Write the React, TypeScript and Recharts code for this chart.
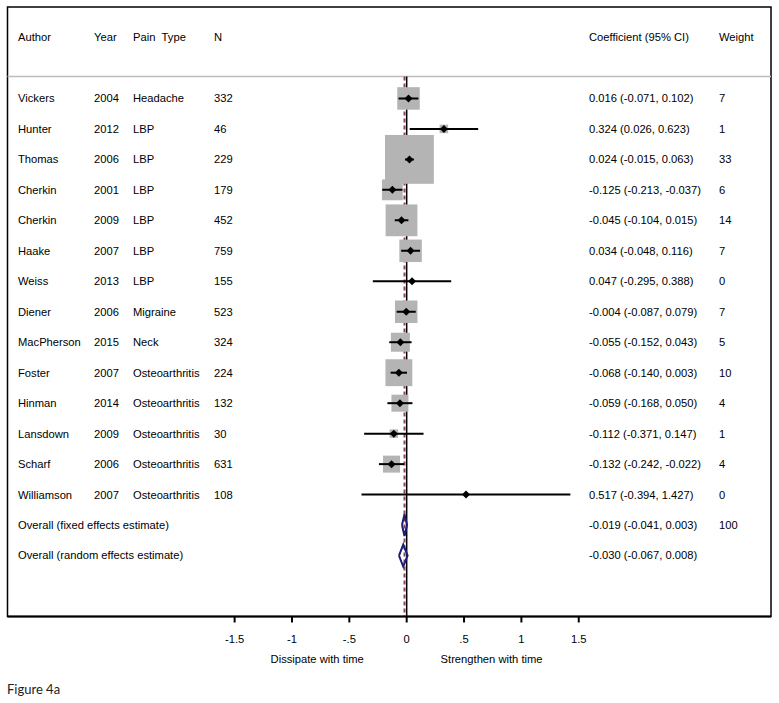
import React from 'react';
import {
    ComposedChart,
    Scatter,
    XAxis,
    YAxis,
    ReferenceLine,
    ReferenceArea
} from 'recharts';

// study rows, top to bottom
const authors = ['Vickers', 'Hunter', 'Thomas', 'Cherkin', 'Cherkin', 'Haake', 'Weiss', 'Diener', 'MacPherson', 'Foster', 'Hinman', 'Lansdown', 'Scharf', 'Williamson'];
const years = [2004, 2012, 2006, 2001, 2009, 2007, 2013, 2006, 2015, 2007, 2014, 2009, 2006, 2007];
const painTypes = ['Headache', 'LBP', 'LBP', 'LBP', 'LBP', 'LBP', 'LBP', 'Migraine', 'Neck', 'Osteoarthritis', 'Osteoarthritis', 'Osteoarthritis', 'Osteoarthritis', 'Osteoarthritis'];
const sampleSizes = [332, 46, 229, 179, 452, 759, 155, 523, 324, 224, 132, 30, 631, 108];
const coefs = [0.016, 0.324, 0.024, -0.125, -0.045, 0.034, 0.047, -0.004, -0.055, -0.068, -0.059, -0.112, -0.132, 0.517];
const lower = [-0.071, 0.026, -0.015, -0.213, -0.104, -0.048, -0.295, -0.087, -0.152, -0.140, -0.168, -0.371, -0.242, -0.394];
const upper = [0.102, 0.623, 0.063, -0.037, 0.015, 0.116, 0.388, 0.079, 0.043, 0.003, 0.050, 0.147, -0.022, 1.427];
const weights = [7, 1, 33, 6, 14, 7, 0, 7, 5, 10, 4, 1, 4, 0];

const overallLabels = ['Overall (fixed effects estimate)', 'Overall (random effects estimate)'];
const overallCoefs = [-0.019, -0.030];
const overallLower = [-0.041, -0.067];
const overallUpper = [0.003, 0.008];
const overallWeights = ['100', ''];

const headers = ['Author', 'Year', 'Pain\u00A0\u00A0Type', 'N', 'Coefficient (95% CI)', 'Weight'];

const xTicks = [-1.5, -1, -0.5, 0, 0.5, 1, 1.5];
const xTickLabels = ['-1.5', '-1', '-.5', '0', '.5', '1', '1.5'];
const noteTicks = [-0.78, 0.74];
const noteLabels = ['Dissipate with time', 'Strengthen with time'];

const X_DOMAIN = [-3.48, 3.176];
const Y_DOMAIN = [-3, 17];
const HEADER_ROW = -2;
const SEPARATOR_ROW = -0.72;
const COLUMN_X = [18, 94, 133, 214, 589, 719];
const SQUARE_SCALE = 8.5;
const DIAMOND_HALF = 0.36;
const FONT = '"Liberation Sans", Arial, sans-serif';

const fmt = (v: number) => v.toFixed(3);

const studies = authors.map((a, i) => ({
    x: coefs[i],
    row: i,
    weight: weights[i],
}));

// 95% CI segments, one per study
const ciLines = authors.map((a, i) => [
    { x: lower[i], row: i },
    { x: upper[i], row: i },
]);

const textRows = [
    { x: 0, row: HEADER_ROW, cells: headers },
    ...authors.map((a, i) => ({
        x: 0,
        row: i,
        cells: [a, String(years[i]), painTypes[i], String(sampleSizes[i]),
            `${fmt(coefs[i])} (${fmt(lower[i])}, ${fmt(upper[i])})`, String(weights[i])],
    })),
    ...overallLabels.map((l, j) => ({
        x: 0,
        row: authors.length + j,
        cells: [l, '', '', '',
            `${fmt(overallCoefs[j])} (${fmt(overallLower[j])}, ${fmt(overallUpper[j])})`, overallWeights[j]],
    })),
];

// outline of each pooled-estimate diamond
const diamonds = overallCoefs.map((c, j) => {
    const r = authors.length + j;
    return [
        { x: overallLower[j], row: r },
        { x: c, row: r - DIAMOND_HALF },
        { x: overallUpper[j], row: r },
        { x: c, row: r + DIAMOND_HALF },
        { x: overallLower[j], row: r },
    ];
});

const TextRow = (props: any) => {
    const { cy, payload } = props;
    return (
        <g>
            {payload.cells.map((t: string, k: number) => (
                t ? <text key={k} x={COLUMN_X[k]} y={cy} dy="0.35em" fontSize={11.2} fontFamily={FONT} fill="#000">{t}</text> : null
            ))}
        </g>
    );
};

const WeightSquare = (props: any) => {
    const { cx, cy, payload } = props;
    const s = SQUARE_SCALE * Math.sqrt(payload.weight);
    if (!s) return <g />;
    return <rect x={cx - s / 2} y={cy - s / 2} width={s} height={s} fill="#b4b4b4" />;
};

const PointDot = (props: any) => {
    const { cx, cy } = props;
    const r = 4;
    return <path d={`M${cx - r},${cy} L${cx},${cy - r} L${cx + r},${cy} L${cx},${cy + r} Z`} fill="#000" />;
};

const Empty = () => <g />;

export default function App() {
    return (
        <div style={{ position: 'absolute', left: 0, top: 0, width: 779, height: 703, background: '#fff' }}>
            <ComposedChart
                width={779}
                height={703}
                margin={{ top: 7, right: 8, bottom: 30.5, left: 7.5 }}
            >
                <XAxis
                    type="number"
                    dataKey="x"
                    domain={X_DOMAIN}
                    allowDataOverflow
                    ticks={xTicks}
                    tickFormatter={(v: number) => xTickLabels[xTicks.indexOf(v)]}
                    height={30}
                    axisLine={{ stroke: '#000', strokeWidth: 2 }}
                    tickLine={{ stroke: '#000', strokeWidth: 2 }}
                    tickSize={6}
                    tickMargin={13}
                    tick={{ fontSize: 11.2, fontFamily: FONT, fill: '#000' }}
                    interval={0}
                />
                <XAxis
                    xAxisId="note"
                    type="number"
                    dataKey="x"
                    domain={X_DOMAIN}
                    allowDataOverflow
                    ticks={noteTicks}
                    tickFormatter={(v: number) => noteLabels[noteTicks.indexOf(v)]}
                    height={26}
                    axisLine={false}
                    tickLine={false}
                    tickSize={0}
                    tickMargin={9}
                    tick={{ fontSize: 11.2, fontFamily: FONT, fill: '#000' }}
                    interval={0}
                />
                <YAxis type="number" dataKey="row" domain={Y_DOMAIN} allowDataOverflow reversed hide />

                <ReferenceArea x1={X_DOMAIN[0]} x2={X_DOMAIN[1]} y1={Y_DOMAIN[0]} y2={Y_DOMAIN[1]}
                    fill="none" fillOpacity={0} stroke="#000" strokeWidth={1.5} />
                <ReferenceLine y={SEPARATOR_ROW} stroke="#bdbdbd" strokeWidth={1.5} />
                <ReferenceLine segment={[{ x: 0, y: SEPARATOR_ROW }, { x: 0, y: Y_DOMAIN[1] }]}
                    stroke="#000" strokeWidth={1.5} />
                <ReferenceLine segment={[{ x: overallCoefs[0], y: SEPARATOR_ROW }, { x: overallCoefs[0], y: Y_DOMAIN[1] }]}
                    stroke="#8e4257" strokeWidth={2} strokeDasharray="4 3" />

                <Scatter data={textRows} shape={TextRow} isAnimationActive={false} />
                <Scatter data={studies} shape={WeightSquare} isAnimationActive={false} />
                {ciLines.map((d, i) => (
                    <Scatter key={`ci${i}`} data={d} shape={Empty} line={{ stroke: '#000', strokeWidth: 2 }}
                        lineType="joint" isAnimationActive={false} />
                ))}
                <Scatter data={studies} shape={PointDot} isAnimationActive={false} />
                {diamonds.map((d, j) => (
                    <Scatter key={`d${j}`} data={d} shape={Empty} line={{ stroke: '#1c1c78', strokeWidth: 2 }}
                        lineType="joint" isAnimationActive={false} />
                ))}
            </ComposedChart>
            <div style={{ position: 'absolute', left: 7, top: 681, fontFamily: 'Lato, "Open Sans", sans-serif', fontSize: 13, color: '#222' }}>
                Figure 4a
            </div>
        </div>
    );
}
